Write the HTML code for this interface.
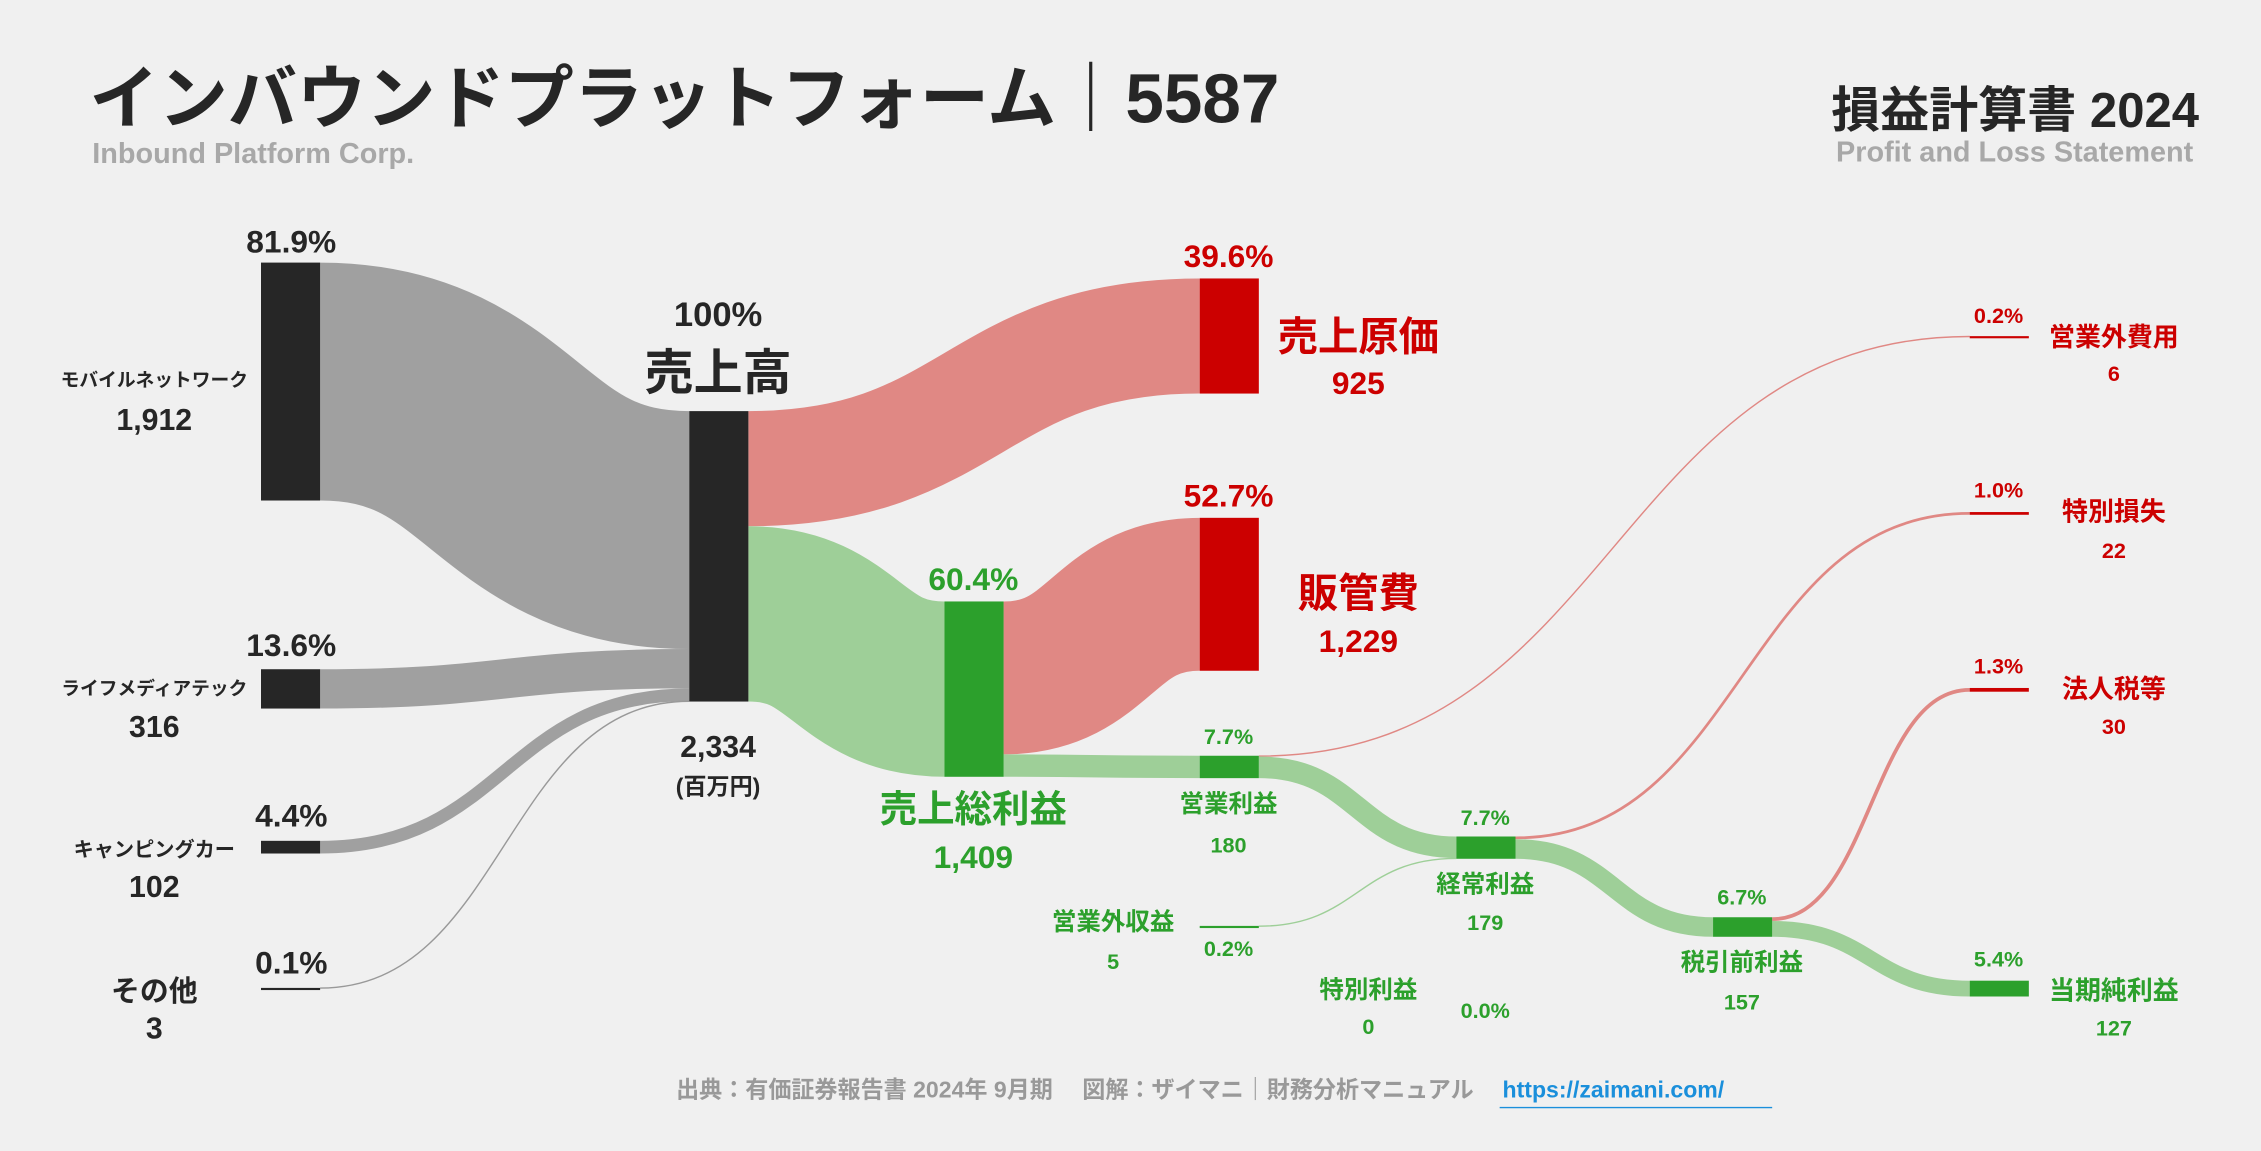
<!DOCTYPE html>
<html><head><meta charset="utf-8">
<style>
html,body{margin:0;padding:0;background:#f0f0f0;}
svg{display:block;font-family:"Liberation Sans","Noto Sans CJK JP",sans-serif;font-weight:bold;}
</style></head>
<body>
<svg id="chart" width="2261" height="1151" viewBox="0 0 1568 798" xmlns="http://www.w3.org/2000/svg">
<rect width="1568" height="798" fill="#f0f0f0"/>
<g id="links"></g>
<g id="nodes"></g>
<g id="labels">
<text x="62" y="85" font-size="48" fill="#262626">インバウンドプラットフォーム｜5587</text>
<text x="64" y="113" font-size="20" fill="#a8a8a8">Inbound Platform Corp.</text>
<text x="1525" y="88" font-size="34" fill="#262626" text-anchor="end">損益計算書 2024</text>
<text x="1521" y="112" font-size="20" fill="#a8a8a8" text-anchor="end">Profit and Loss Statement</text>

<g fill="#262626" text-anchor="middle">
<text x="202" y="175" font-size="22">81.9%</text>
<text x="107" y="268" font-size="13">モバイルネットワーク</text>
<text x="107" y="298" font-size="21">1,912</text>
<text x="202" y="455" font-size="22">13.6%</text>
<text x="107" y="482" font-size="13">ライフメディアテック</text>
<text x="107" y="511" font-size="21">316</text>
<text x="202" y="573" font-size="22">4.4%</text>
<text x="107" y="594" font-size="14">キャンピングカー</text>
<text x="107" y="622" font-size="21">102</text>
<text x="202" y="675" font-size="22">0.1%</text>
<text x="107" y="694" font-size="20">その他</text>
<text x="107" y="720" font-size="21">3</text>
<text x="498" y="226" font-size="24">100%</text>
<text x="498" y="270" font-size="34">売上高</text>
<text x="498" y="525" font-size="21">2,334</text>
<text x="498" y="551" font-size="16">(百万円)</text>
</g>

<g fill="#cc0000" text-anchor="middle">
<text x="852" y="185" font-size="22">39.6%</text>
<text x="942" y="243" font-size="28">売上原価</text>
<text x="942" y="273" font-size="22">925</text>
<text x="852" y="351" font-size="22">52.7%</text>
<text x="942" y="421" font-size="28">販管費</text>
<text x="942" y="452" font-size="22">1,229</text>
<text x="1386" y="224" font-size="15">0.2%</text>
<text x="1466" y="240" font-size="18">営業外費用</text>
<text x="1466" y="264" font-size="15">6</text>
<text x="1386" y="345" font-size="15">1.0%</text>
<text x="1466" y="361" font-size="18">特別損失</text>
<text x="1466" y="387" font-size="15">22</text>
<text x="1386" y="467" font-size="15">1.3%</text>
<text x="1466" y="484" font-size="18">法人税等</text>
<text x="1466" y="509" font-size="15">30</text>
</g>

<g fill="#2ca02c" text-anchor="middle">
<text x="675" y="409" font-size="22">60.4%</text>
<text x="675" y="570" font-size="26">売上総利益</text>
<text x="675" y="602" font-size="22">1,409</text>
<text x="852" y="516" font-size="15">7.7%</text>
<text x="852" y="563" font-size="17">営業利益</text>
<text x="852" y="591" font-size="15">180</text>
<text x="772" y="645" font-size="17">営業外収益</text>
<text x="772" y="672" font-size="15">5</text>
<text x="852" y="663" font-size="15">0.2%</text>
<text x="949" y="692" font-size="17">特別利益</text>
<text x="949" y="717" font-size="15">0</text>
<text x="1030" y="706" font-size="15">0.0%</text>
<text x="1030" y="572" font-size="15">7.7%</text>
<text x="1030" y="619" font-size="17">経常利益</text>
<text x="1030" y="645" font-size="15">179</text>
<text x="1208" y="627" font-size="15">6.7%</text>
<text x="1208" y="673" font-size="17">税引前利益</text>
<text x="1208" y="700" font-size="15">157</text>
<text x="1386" y="670" font-size="15">5.4%</text>
<text x="1466" y="693" font-size="18">当期純利益</text>
<text x="1466" y="718" font-size="15">127</text>
</g>

<text x="1022" y="761" font-size="16" fill="#999" text-anchor="end">出典：有価証券報告書 2024年 9月期　 図解：ザイマニ｜財務分析マニュアル</text>
<text x="1042" y="761" font-size="16" fill="#1a8fdb">https://zaimani.com/</text>
<line x1="1040" y1="768" x2="1229" y2="768" stroke="#1a8fdb" stroke-width="1"/>
</g>
</svg>
<script>
// data
const nodeNames = ["mobile","life","camping","other","revenue","cogs","gross","sga","op","nonopExp","nonopInc","ordinary","loss","pretax","tax","net"];
const nodeValues = [1912,316,102,3,2334,925,1409,1229,180,6,5,179,22,157,30,127];
const linkSources = ["mobile","life","camping","other","revenue","revenue","gross","gross","op","op","nonopInc","ordinary","ordinary","pretax","pretax"];
const linkTargets = ["revenue","revenue","revenue","revenue","cogs","gross","sga","op","nonopExp","ordinary","ordinary","loss","pretax","tax","net"];
const linkValues = [1912,316,102,3,925,1409,1229,180,6,174,5,22,157,30,127];

// layout (not data)
const K = 165/1912;
const layout = {
 mobile:{x:181,y:182,c:"#262626"}, life:{x:181,y:464,c:"#262626"}, camping:{x:181,y:583,c:"#262626"}, other:{x:181,y:685,c:"#262626"},
 revenue:{x:478,y:285,c:"#262626"}, cogs:{x:832,y:193,c:"#cc0000"}, gross:{x:655,y:417,c:"#2ca02c"},
 sga:{x:832,y:359,c:"#cc0000"}, op:{x:832,y:524,c:"#2ca02c"}, nonopExp:{x:1366,y:233,c:"#cc0000"},
 nonopInc:{x:832,y:642,c:"#2ca02c"}, ordinary:{x:1010,y:580,c:"#2ca02c"}, loss:{x:1366,y:355,c:"#cc0000"},
 pretax:{x:1188,y:636,c:"#2ca02c"}, tax:{x:1366,y:477,c:"#cc0000"}, net:{x:1366,y:680,c:"#2ca02c"}
};
const NW = 41;
const NS = "http://www.w3.org/2000/svg";
const outOff = {}, inOff = {};
nodeNames.forEach(n => { outOff[n] = 0; inOff[n] = 0; });

const linkG = document.getElementById("links");
for (let i = 0; i < linkValues.length; i++) {
  const s = layout[linkSources[i]], t = layout[linkTargets[i]];
  const w = linkValues[i] * K;
  const y0 = s.y + outOff[linkSources[i]] + w / 2;
  const y1 = t.y + inOff[linkTargets[i]] + w / 2;
  outOff[linkSources[i]] += w; inOff[linkTargets[i]] += w;
  const x0 = s.x + NW, x1 = t.x, mx = (x0 + x1) / 2;
  let col;
  if (linkTargets[i] === "revenue") col = w < 1 ? "#999999" : "#a0a0a0";
  else if (layout[linkTargets[i]].c === "#cc0000") col = "#e08884";
  else col = "#9ecf98";
  const p = document.createElementNS(NS, "path");
  p.setAttribute("d", `M${x0},${y0} C${mx},${y0} ${mx},${y1} ${x1},${y1}`);
  p.setAttribute("fill", "none");
  p.setAttribute("stroke", col);
  p.setAttribute("stroke-width", Math.max(w, 1));
  
  
  linkG.appendChild(p);
}
const nodeG = document.getElementById("nodes");
for (let i = 0; i < nodeNames.length; i++) {
  const L = layout[nodeNames[i]];
  const r = document.createElementNS(NS, "rect");
  r.setAttribute("x", L.x); r.setAttribute("y", L.y);
  r.setAttribute("width", NW);
  r.setAttribute("height", Math.max(nodeValues[i] * K, 1.5));
  r.setAttribute("fill", L.c);
  
  
  nodeG.appendChild(r);
}
</script>
</body></html>
